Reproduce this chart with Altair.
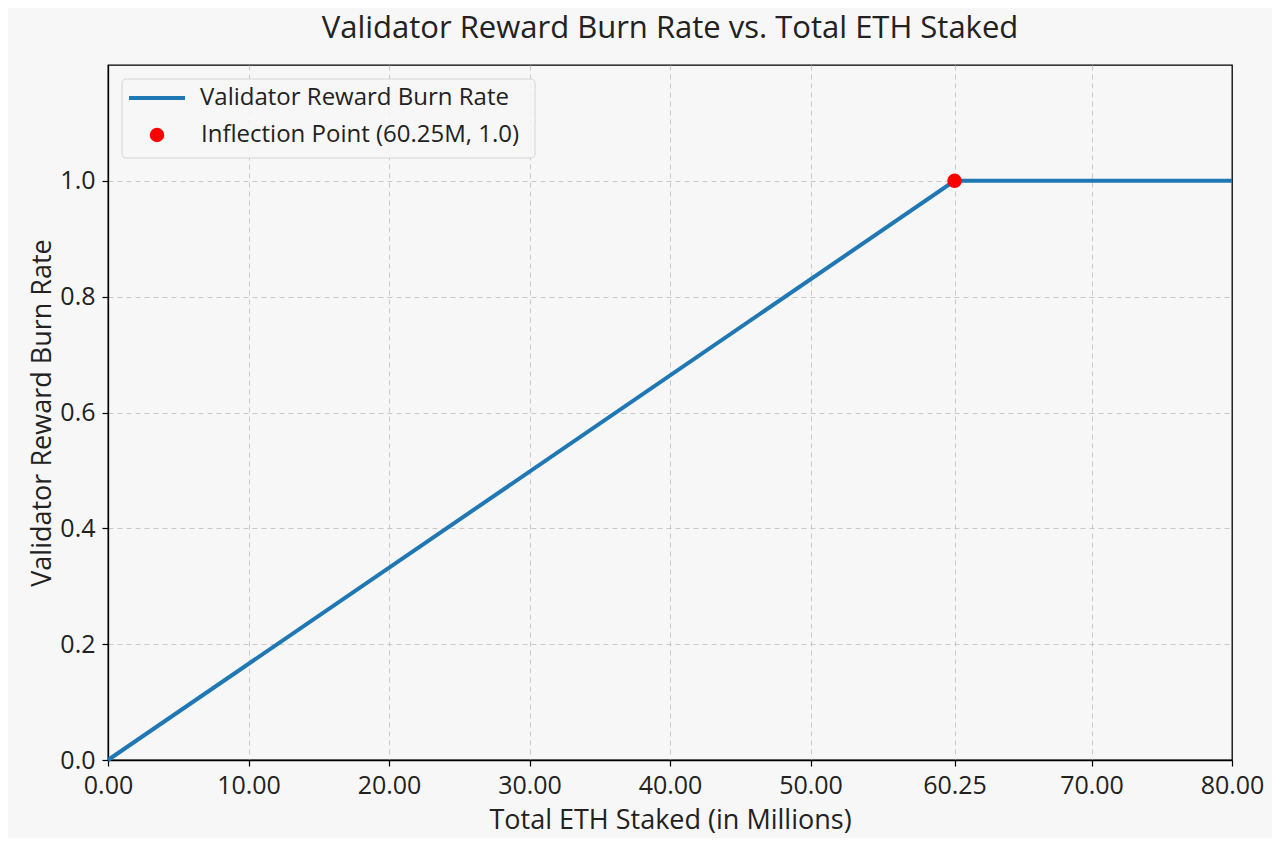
import altair as alt
import pandas as pd

# values
staked_millions = [0.0, 60.25, 80.0]
burn_rate = [0.0, 1.0, 1.0]
inflection_x = [60.25]
inflection_y = [1.0]
x_ticks = [0, 10, 20, 30, 40, 50, 60.25, 70, 80]
y_ticks = [0.0, 0.2, 0.4, 0.6, 0.8, 1.0]

LINE_LABEL = "Validator Reward Burn Rate"
POINT_LABEL = "Inflection Point (60.25M, 1.0)"

line_df = pd.DataFrame({"staked": staked_millions, "burn": burn_rate, "series": LINE_LABEL})
point_df = pd.DataFrame({"staked": inflection_x, "burn": inflection_y, "series": POINT_LABEL})

FONT = "Open Sans"
BG = "#f7f7f7"
TEXT = "#222222"

# no dashed grid line on top of the frame edges
edge_grid = {"condition": {"test": "datum.value === 0 || datum.value === 80", "value": 0}, "value": 1}

x_enc = alt.X(
    "staked:Q",
    title="Total ETH Staked (in Millions)",
    scale=alt.Scale(domain=[0, 80], nice=False, zero=False),
    axis=alt.Axis(values=x_ticks, format=".2f", labelFlush=False, gridOpacity=edge_grid),
)
y_enc = alt.Y(
    "burn:Q",
    title="Validator Reward Burn Rate",
    scale=alt.Scale(domain=[0, 1.2], nice=False),
    axis=alt.Axis(values=y_ticks, format=".1f", gridOpacity=edge_grid),
)

legend_common = dict(
    title=None,
    orient="none",
    padding=0,
    labelFont=FONT,
    labelFontSize=24,
    labelColor=TEXT,
    labelLimit=500,
)

# legend frame (matplotlib style box behind the two legend entries)
frame = alt.Chart(point_df).mark_rect(
    fill=BG, fillOpacity=0.85, stroke="#d4d4d4", strokeWidth=1, cornerRadius=4
).encode(x=alt.value(14), x2=alt.value(427), y=alt.value(14), y2=alt.value(93))

line = alt.Chart(line_df).mark_line(strokeWidth=4).encode(
    x=x_enc,
    y=y_enc,
    color=alt.Color(
        "series:N",
        scale=alt.Scale(domain=[LINE_LABEL], range=["#1f77b4"]),
        legend=alt.Legend(
            legendX=19, legendY=3, symbolType="stroke", symbolSize=3136,
            symbolStrokeWidth=4, labelOffset=13, **legend_common
        ),
    ),
)

point = alt.Chart(point_df).mark_circle(size=210, opacity=1).encode(
    x=x_enc,
    y=y_enc,
    fill=alt.Fill(
        "series:N",
        scale=alt.Scale(domain=[POINT_LABEL], range=["#ff0000"]),
        legend=alt.Legend(
            legendX=37, legendY=58, symbolType="circle", symbolSize=210,
            symbolStrokeWidth=0, symbolOpacity=1, labelOffset=32, **legend_common
        ),
    ),
)

chart = (
    alt.layer(frame, line, point)
    .properties(
        width=1124,
        height=695,
        background=BG,
        padding={"left": 100, "top": 57, "right": 40, "bottom": 78},
        autosize=alt.AutoSizeParams(type="none"),
        title=alt.TitleParams(
            "Validator Reward Burn Rate vs. Total ETH Staked",
            font=FONT,
            fontSize=31,
            fontWeight="normal",
            color=TEXT,
            offset=20,
        ),
    )
    .configure_view(stroke="black", strokeWidth=1.3, fill=BG)
    .configure_axis(
        grid=True,
        gridDash=[5, 4],
        gridColor="#c8c8c8",
        gridWidth=1,
        domain=True,
        domainColor="black",
        domainWidth=1.3,
        tickColor="black",
        tickSize=6,
        tickWidth=1.2,
        labelFont=FONT,
        labelFontSize=25,
        labelColor=TEXT,
        titleFont=FONT,
        titleFontSize=27,
        titleFontWeight="normal",
        titleColor=TEXT,
    )
    .configure_axisX(labelPadding=7, titlePadding=9)
    .configure_axisY(labelPadding=7, titlePadding=3)
)

chart.save("out.html", embed_options={"renderer": "svg", "actions": False})
